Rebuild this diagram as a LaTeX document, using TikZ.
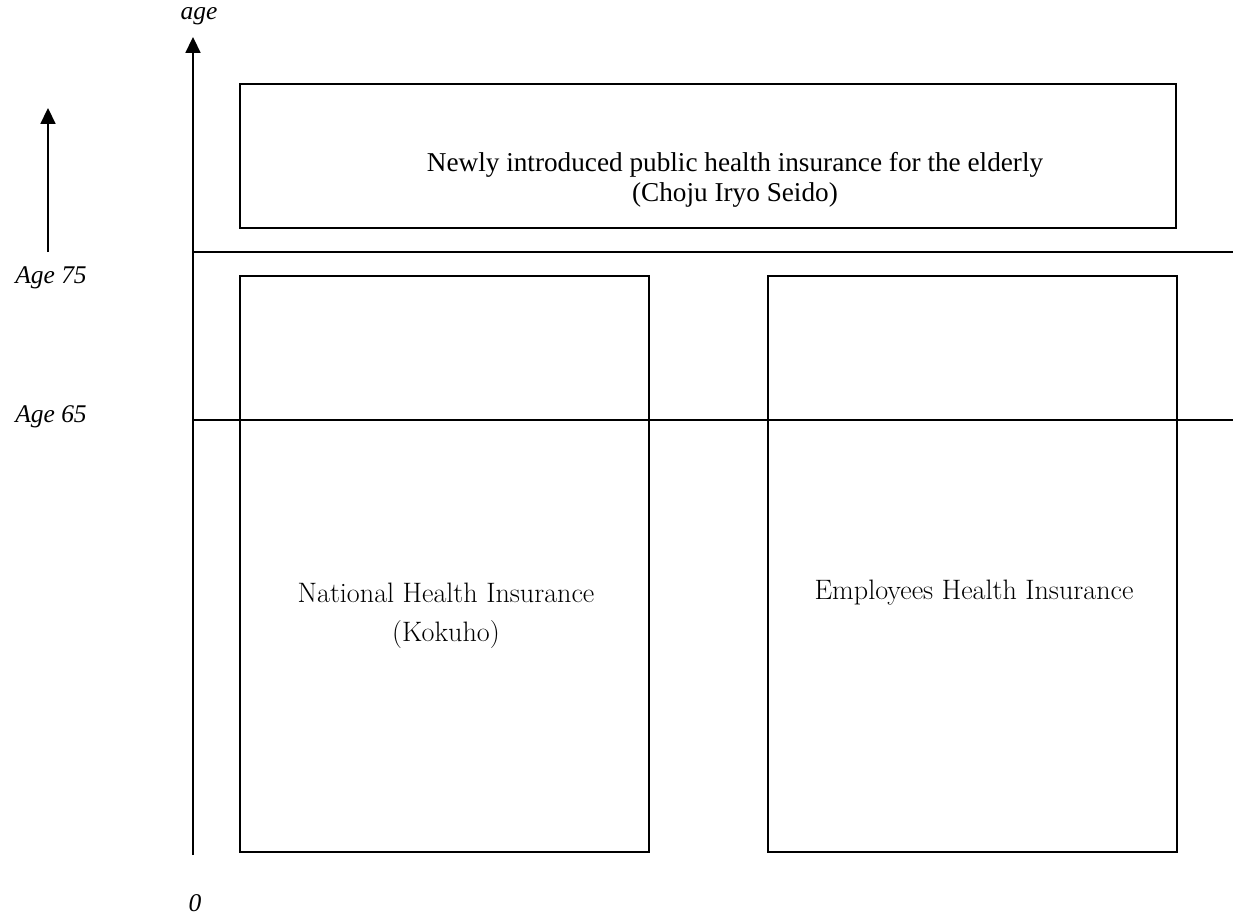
\documentclass[tikz,border=0pt]{standalone}
\usepackage{fontspec}
\newfontfamily\gara{Liberation Serif}
\usetikzlibrary{positioning, arrows.meta}

\tikzset{
	box/.style = {draw, line width = 1pt, minimum width = #1, inner sep = 0pt},
	boxtext/.style = {font = \fontsize{16}{19}\selectfont, align = center},
	toptext/.style = {font = \gara\fontsize{15.5}{17}\selectfont, align = center},
	agelabel/.style = {font = \gara\itshape\fontsize{14.5}{16}\selectfont}
}

\begin{document}
\begin{tikzpicture}[x = 0.02cm, y = -0.02cm, > = {Triangle[length = 9pt, width = 8.5pt]}, line width = 1pt]

	\useasboundingbox (0, 0) rectangle (1233, 920);

	% Age axis

	\coordinate (origin) at (193, 855);
	\coordinate (axistop) at (193, 37);
	\draw [->] (origin) -- (axistop);
	\node [agelabel] (agename) at (199, 16) {age};
	\node [agelabel] (zero) at (195, 903) {0};

	% Arrow on the left

	\coordinate (arrowfoot) at (48, 252);
	\coordinate (arrowtip) at (48, 108);
	\draw [->] (arrowfoot) -- (arrowtip);

	% Age limits

	\foreach \y/\ly/\age in {252/278/75, 420/417/65}
	{
		\coordinate (lim\age a) at (193, \y);
		\coordinate (lim\age b) at (1233, \y);
		\draw (lim\age a) -- (lim\age b);
		\node [agelabel] (age\age) at (51, \ly) {Age \age};
	}

	% Insurance boxes

	\node [box = 18.72cm, minimum height = 2.88cm] (choju) at (708, 156) {};
	\node [box = 8.18cm, minimum height = 11.52cm] (kokuho) at (444.5, 564) {};
	\node [box = 8.18cm, minimum height = 11.52cm] (shaho) at (972.5, 564) {};

	% Box labels

	\node [toptext] (chojutext) at (735, 180) {Newly introduced public health insurance for the elderly\\(Choju Iryo Seido)};
	\node [boxtext] (kokuhotext) at (446, 593) {National Health Insurance};
	\node [boxtext, below = 22pt of kokuhotext.base, anchor = base] (kokuhoname) {(Kokuho)};
	\node [boxtext] (shahotext) at (974, 593) {Employees Health Insurance};

\end{tikzpicture}
\end{document}
